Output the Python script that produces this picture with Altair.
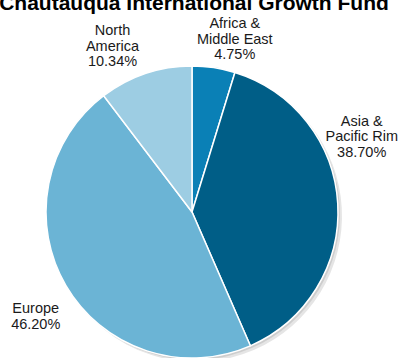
import altair as alt
import pandas as pd

# ---- data ----
regions = ["Africa & Middle East", "Asia & Pacific Rim", "Europe", "North America"]
label_lines = ["Africa &\nMiddle East", "Asia &\nPacific Rim", "Europe", "North\nAmerica"]
shares = [4.75, 38.70, 46.20, 10.34]
colors = ["#0A80B6", "#005E87", "#6BB4D5", "#9DCDE3"]
title_text = ["Chautauqua International Growth Fund"]

df = pd.DataFrame({
    "region": regions,
    "lines": label_lines,
    "share": shares,
    "order": list(range(len(regions))),
})
df["label"] = df["lines"] + "\n" + df["share"].map(lambda v: f"{v:.2f}%")
title_df = pd.DataFrame({"title": title_text})

# ---- layout (label nudges, pixels) ----
label_nudge = [(16, -10), (-10, -80), (-1, 6), (-22, -10)]
R = 146
FONT = "Liberation Sans"

base = alt.Chart(df).encode(
    theta=alt.Theta("share:Q", stack=True),
    order=alt.Order("order:Q"),
)

shadow1 = base.mark_arc(outerRadius=R, color="#000000", opacity=0.10, xOffset=4, yOffset=4)
shadow2 = base.mark_arc(outerRadius=R, color="#000000", opacity=0.10, xOffset=2, yOffset=2)

pie = base.mark_arc(outerRadius=R, stroke="white", strokeWidth=1.5).encode(
    color=alt.Color("region:N", scale=alt.Scale(domain=regions, range=colors), legend=None)
)

texts = []
for i, (dx, dy) in enumerate(label_nudge):
    texts.append(
        base.transform_calculate(t=f"datum.order == {i} ? datum.label : ''")
        .mark_text(radius=180, dx=dx, dy=dy, font=FONT, fontSize=14.5, lineHeight=15.5,
                   lineBreak="\n", align="center", baseline="middle", color="#1a1a1a")
        .encode(text="t:N")
    )

title = alt.Chart(title_df).mark_text(
    font=FONT, fontSize=21, fontWeight="bold", align="center", baseline="alphabetic",
    color="#000000"
).encode(text="title:N", x=alt.value(194), y=alt.value(-56))

chart = alt.layer(shadow1, shadow2, pie, *texts, title).properties(
    width=384,
    height=292,
    padding={"left": 0, "top": 66, "right": 17, "bottom": 0},
    autosize="none",
).configure_view(stroke=None)

chart.save("out.html", embed_options={"renderer": "svg", "actions": False,
                                      "defaultStyle": "body{margin:0 !important;overflow:hidden;}"})
